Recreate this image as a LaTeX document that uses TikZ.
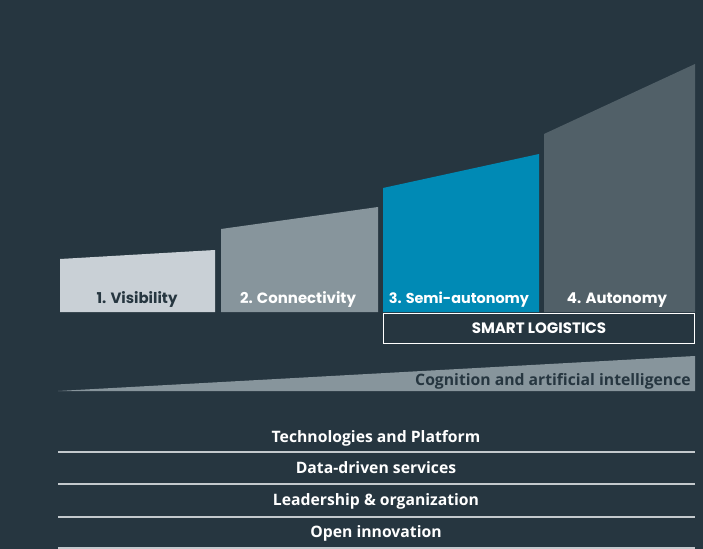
\documentclass[tikz,border=0pt]{standalone}
\usepackage{fontspec}
\setmainfont{Open Sans}
\newfontfamily\barfont{Poppins}
\usetikzlibrary{positioning}

\definecolor{bgdark}{HTML}{263640}
\definecolor{stageone}{HTML}{C9D0D6}
\definecolor{stagetwo}{HTML}{87959C}
\definecolor{stagethree}{HTML}{008AB5}
\definecolor{stagefour}{HTML}{516068}
\definecolor{rulegray}{HTML}{C3C9CD}

\tikzset{
  barlabel/.style={font=\barfont\bfseries\fontsize{11.2}{13}\selectfont, anchor=base, inner sep=0pt},
  rowlabel/.style={font=\bfseries\fontsize{11.8}{13}\selectfont, text=white, anchor=base, inner sep=0pt},
  rowline/.style={draw=rulegray, line width=1pt},
}

\begin{document}
\begin{tikzpicture}[x=0.75pt, y=-0.75pt]
  \fill[bgdark] (0,0) rectangle (703,549);
  \useasboundingbox (0,0) rectangle (703,549);

  % the four stages
  \fill[stageone]   (60,259)  -- (215,250) -- (215,312) -- (60,312)  -- cycle;
  \fill[stagetwo]   (221,229) -- (378,207) -- (378,312) -- (221,312) -- cycle;
  \fill[stagethree] (383,188) -- (539,154) -- (539,312) -- (383,312) -- cycle;
  \fill[stagefour]  (544,134) -- (695,64)  -- (695,312) -- (544,312) -- cycle;

  \node[barlabel, text=bgdark] (visibility)   at (137,303.5) {1. Visibility};
  \node[barlabel, text=white]  (connectivity) at (298,303.5) {2. Connectivity};
  \node[barlabel, text=white, font=\barfont\bfseries\fontsize{10.8}{13}\selectfont]
                               (semiauto)     at (459,303.5) {3. Semi-autonomy};
  \node[barlabel, text=white]  (autonomy)     at (617,303.5) {4. Autonomy};

  \node[draw=white, fill=bgdark, line width=0.9pt, minimum width=233pt, minimum height=22pt,
        font=\barfont\bfseries\fontsize{11.3}{13}\selectfont, text=white] (smart) at (539,328.5) {SMART LOGISTICS};

  % wedge
  \fill[stagetwo] (58,391) -- (695,356) -- (695,391) -- cycle;
  \node[font=\bfseries\fontsize{11.8}{13}\selectfont, text=bgdark, anchor=base east, inner sep=0pt]
    (cognition) at (691,385) {Cognition and artificial intelligence};

  % foundations
  \foreach \y/\nm/\txt in {442/tech/Technologies and Platform, 473/data/Data-driven services,
                           505/lead/Leadership \& organization, 537/open/Open innovation} {
    \node[rowlabel] (\nm) at (376,\y) {\txt};
  };
  \foreach \y in {452,484,517,548}
    \draw[rowline] (58,\y) -- (695,\y);
\end{tikzpicture}
\end{document}
